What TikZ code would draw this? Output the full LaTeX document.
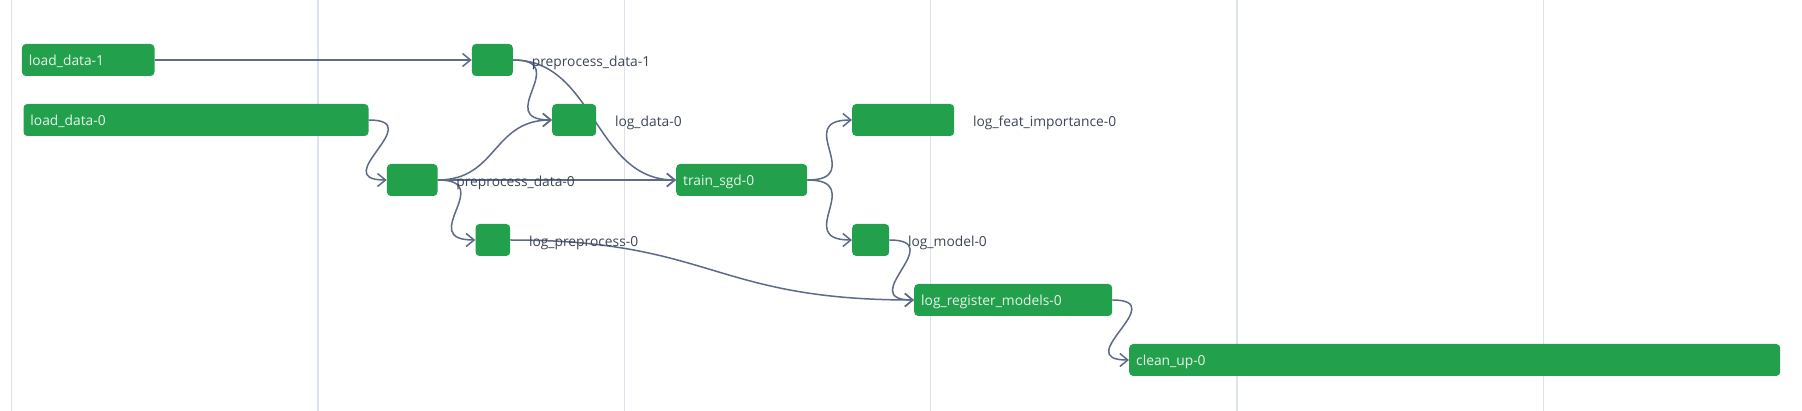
\documentclass[tikz,border=0pt]{standalone}
\usepackage{fontspec}
\setmainfont{Open Sans}
\usetikzlibrary{arrows.meta,calc}
\definecolor{taskgreen}{HTML}{23A04C}
\definecolor{tasktext}{HTML}{E6F4EA}
\definecolor{edgecol}{HTML}{5D6B87}
\definecolor{lblcol}{HTML}{3D4656}
\definecolor{gridcol}{HTML}{DDE3EE}
\newcommand{\tasksize}{\fontsize{13.8pt}{16pt}\selectfont}
\pgfdeclarelayer{back}
\pgfsetlayers{back,main}
\tikzset{
  task/.style={fill=taskgreen, rounded corners=4pt, inner xsep=7pt, inner ysep=0pt,
    minimum height=32pt, text height=14pt, text depth=2pt, align=left,
    text=tasktext, font=\tasksize, anchor=west},
  lbl/.style={text=lblcol, font=\tasksize, inner sep=0pt, anchor=base west},
  edge/.style={draw=edgecol, line width=1.5pt,
    -{Straight Barb[length=8pt,width=13pt,line width=1.5pt]}},
  gridline/.style={draw=gridcol, line width=1.3pt}
}
\begin{document}
\begin{tikzpicture}[x=1pt,y=-1pt]
\useasboundingbox (0,0) rectangle (1802,411);
% task boxes
\path
  node[task, text width=118.6pt] (ld1) at (21.7,60) {load\_data-1}
  node[task, text width=331pt] (ld0) at (23.3,120) {load\_data-0}
  node[task, text width=27pt] (pd1) at (471.7,60) {}
  node[task, text width=30pt] (logd) at (552,120) {}
  node[task, text width=36.6pt] (pd0) at (386.7,180) {}
  node[task, text width=20.7pt] (lpp) at (475.3,240) {}
  node[task, text width=117pt] (sgd) at (676,180) {train\_sgd-0}
  node[task, text width=88pt] (lfi) at (852,120) {}
  node[task, text width=23pt] (lm) at (852,240) {}
  node[task, text width=184pt] (lrm) at (914,300) {log\_register\_models-0}
  node[task, text width=637pt] (cu) at (1129,360) {clean\_up-0};
\begin{pgfonlayer}{back}
\fill[white] (0,0) rectangle (1802,411);
\foreach \gx in {11.7,318,624.3,930.6,1236.9,1543.2}
  \draw[gridline] (\gx,0) -- (\gx,411);
% edges
\draw[edge] (ld1.east) -- (pd1.west);
\draw[edge] (ld0.east) .. controls ($(ld0.east)+(60,0)$) and ($(pd0.west)+(-60,0)$) .. (pd0.west);
\draw[edge] (pd1.east) .. controls ($(pd1.east)+(60,0)$) and ($(logd.west)+(-60,0)$) .. (logd.west);
\draw[edge] (pd1.east) .. controls ($(pd1.east)+(82,0)$) and ($(sgd.west)+(-82,0)$) .. (sgd.west);
\draw[edge] (pd0.east) .. controls ($(pd0.east)+(60,0)$) and ($(logd.west)+(-60,0)$) .. (logd.west);
\draw[edge] (pd0.east) -- (sgd.west);
\draw[edge] (pd0.east) .. controls ($(pd0.east)+(60,0)$) and ($(lpp.west)+(-60,0)$) .. (lpp.west);
\draw[edge] (lpp.east) .. controls ($(lpp.east)+(202,0)$) and ($(lrm.west)+(-202,0)$) .. (lrm.west);
\draw[edge] (sgd.east) .. controls ($(sgd.east)+(60,0)$) and ($(lfi.west)+(-60,0)$) .. (lfi.west);
\draw[edge] (sgd.east) .. controls ($(sgd.east)+(60,0)$) and ($(lm.west)+(-60,0)$) .. (lm.west);
\draw[edge] (lm.east) .. controls ($(lm.east)+(60,0)$) and ($(lrm.west)+(-60,0)$) .. (lrm.west);
\draw[edge] (lrm.east) .. controls ($(lrm.east)+(60,0)$) and ($(cu.west)+(-60,0)$) .. (cu.west);
\end{pgfonlayer}
% outside labels
\node[lbl] (tpd1) at ($(pd1.east)+(18.5,6.5)$) {preprocess\_data-1};
\node[lbl] (tlogd) at ($(logd.east)+(18.5,6.5)$) {log\_data-0};
\node[lbl] (tpd0) at ($(pd0.east)+(18.5,6.5)$) {preprocess\_data-0};
\node[lbl] (tlpp) at ($(lpp.east)+(18.5,6.5)$) {log\_preprocess-0};
\node[lbl] (tlfi) at ($(lfi.east)+(18.5,6.5)$) {log\_feat\_importance-0};
\node[lbl] (tlm) at ($(lm.east)+(18.5,6.5)$) {log\_model-0};
\end{tikzpicture}
\end{document}
